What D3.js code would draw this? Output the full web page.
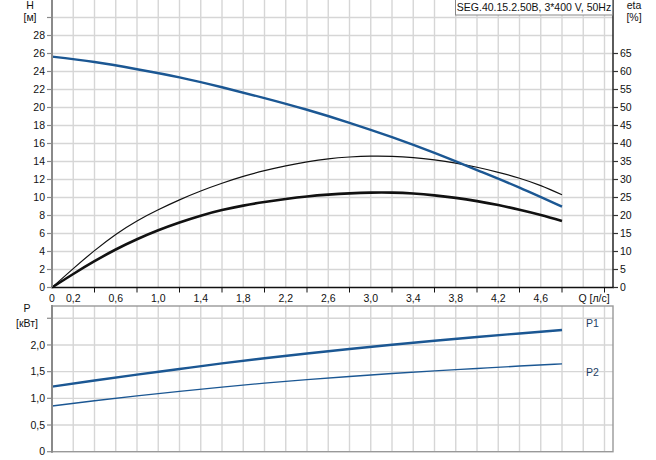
<!DOCTYPE html>
<html><head><meta charset="utf-8">
<script src="https://cdn.jsdelivr.net/npm/d3@7"></script>
<style>
html,body{margin:0;padding:0;background:#fff;}
svg{display:block;font-family:"Liberation Sans",Arial,sans-serif;}
</style></head>
<body>
<svg id="c" width="656" height="460"></svg>
<script>
// ---- data ----
const qH = [0,0.4,0.8,1.2,1.6,2.0,2.4,2.8,3.2,3.6,4.0,4.4,4.8];
const headH = [25.65,25.05,24.25,23.35,22.25,21.05,19.75,18.3,16.7,14.95,13.05,11.1,8.98];

const qEta = [0,0.2,0.4,0.6,0.8,1.0,1.2,1.4,1.6,1.8,2.0,2.2,2.4,2.6,2.8,3.0,3.2,3.4,3.6,3.8,4.0,4.2,4.4,4.6,4.8];
const etaPump = [0,5.25,10.25,14.75,18.5,21.6,24.35,26.8,28.95,30.85,32.45,33.8,34.9,35.75,36.25,36.5,36.45,36.1,35.45,34.55,33.4,32.0,30.35,28.3,25.75];
const etaTotal = [0,3.75,7.3,10.55,13.4,15.9,18.05,19.95,21.5,22.75,23.75,24.6,25.3,25.8,26.15,26.35,26.35,26.1,25.6,24.9,24.0,22.9,21.6,20.15,18.5];

const qP = [0,0.4,0.8,1.2,1.6,2.0,2.4,2.8,3.2,3.6,4.0,4.4,4.8];
const p1 = [1.22,1.335,1.445,1.55,1.655,1.75,1.84,1.925,2.005,2.08,2.15,2.215,2.28];
const p2 = [0.857,0.955,1.045,1.13,1.21,1.285,1.35,1.41,1.465,1.515,1.56,1.605,1.645];

const qTickLabels = ["0","0,2","0,6","1,0","1,4","1,8","2,2","2,6","3,0","3,4","3,8","4,2","4,6"];
const qTickValues = [0,0.2,0.6,1.0,1.4,1.8,2.2,2.6,3.0,3.4,3.8,4.2,4.6];
const hTicks = [0,2,4,6,8,10,12,14,16,18,20,22,24,26,28];
const etaTicks = [0,5,10,15,20,25,30,35,40,45,50,55,60,65];
const pTicks = [0,0.5,1.0,1.5,2.0];
const pTickLabels = ["0","0,5","1,0","1,5","2,0"];
const title = "SEG.40.15.2.50B, 3*400 V, 50Hz";

// ---- layout ----
const svg = d3.select("#c");
const X0 = 52, X1 = 613;
const x = d3.scaleLinear().domain([0,5.28]).range([X0,X1]);
const yH = d3.scaleLinear().domain([0,32]).range([287.5,-0.5]);
const yEta = d3.scaleLinear().domain([0,80]).range([287.5,-0.5]);
const yP = d3.scaleLinear().domain([0,2.73]).range([451.7,306]);

const gridQ = d3.range(1,27).map(i=>i*0.2);
const blue = "#1b5793";
const gridCol = "#d6d6d6";

// ---- top chart grid ----
const gTop = svg.append("g");
gTop.selectAll("line.vg").data(gridQ).join("line")
  .attr("x1",d=>x(d)).attr("x2",d=>x(d)).attr("y1",0).attr("y2",yH(0))
  .attr("stroke",gridCol).attr("stroke-width",1.4);
gTop.selectAll("line.hg").data(d3.range(1,16).map(i=>i*2)).join("line")
  .attr("x1",X0).attr("x2",X1).attr("y1",d=>yH(d)).attr("y2",d=>yH(d))
  .attr("stroke",gridCol).attr("stroke-width",1.4);

// curves
const lineOf = (xs, ys, ysc) => d3.line().curve(d3.curveNatural)
  .x((d,i)=>x(xs[i])).y(d=>ysc(d))(ys);

gTop.append("path").attr("d",lineOf(qEta,etaPump,yEta)).attr("fill","none")
  .attr("stroke","#111").attr("stroke-width",1.2);
gTop.append("path").attr("d",lineOf(qEta,etaTotal,yEta)).attr("fill","none")
  .attr("stroke","#111").attr("stroke-width",2.6);
gTop.append("path").attr("d",lineOf(qH,headH,yH)).attr("fill","none")
  .attr("stroke",blue).attr("stroke-width",2.4);

// axes
gTop.append("line").attr("x1",X0).attr("x2",X0).attr("y1",0).attr("y2",yH(0))
  .attr("stroke","#8a8a8a").attr("stroke-width",2);
gTop.append("line").attr("x1",X1).attr("x2",X1).attr("y1",0).attr("y2",yH(0))
  .attr("stroke","#333").attr("stroke-width",1.6);
gTop.append("line").attr("x1",X0-1).attr("x2",X1+1).attr("y1",yH(0)).attr("y2",yH(0))
  .attr("stroke","#111").attr("stroke-width",1.6);

// left ticks
gTop.selectAll("line.lt").data(hTicks.concat([30])).join("line")
  .attr("x1",X0-5).attr("x2",X0).attr("y1",d=>yH(d)).attr("y2",d=>yH(d))
  .attr("stroke","#8a8a8a").attr("stroke-width",1.2);
gTop.selectAll("text.lt").data(hTicks).join("text")
  .attr("x",45).attr("y",d=>yH(d)).attr("dy","0.35em").attr("text-anchor","end")
  .attr("font-size",10.5).attr("fill","#111").text(d=>d);
// right ticks
gTop.selectAll("line.rt").data(etaTicks).join("line")
  .attr("x1",X1).attr("x2",X1+5).attr("y1",d=>yEta(d)).attr("y2",d=>yEta(d))
  .attr("stroke","#333").attr("stroke-width",1.2);
gTop.selectAll("text.rt").data(etaTicks).join("text")
  .attr("x",620).attr("y",d=>yEta(d)).attr("dy","0.35em").attr("text-anchor","start")
  .attr("font-size",10.5).attr("fill","#111").text(d=>d);
// bottom ticks
gTop.selectAll("line.bt").data(d3.range(1,14).map(i=>i*0.4)).join("line")
  .attr("x1",d=>x(d)).attr("x2",d=>x(d)).attr("y1",yH(0)).attr("y2",yH(0)+5)
  .attr("stroke","#111").attr("stroke-width",1);
gTop.selectAll("text.bt").data(qTickValues).join("text")
  .attr("x",d=>x(d)).attr("y",298).attr("dy","0.35em").attr("text-anchor","middle")
  .attr("font-size",10.5).attr("fill","#111").text((d,i)=>qTickLabels[i]);
gTop.append("text").attr("x",594).attr("y",298).attr("dy","0.35em").attr("text-anchor","middle")
  .attr("font-size",10.5).attr("fill","#111").text("Q [л/с]");

// axis titles
gTop.append("text").attr("x",30).attr("y",5).attr("dy","0.35em").attr("text-anchor","middle")
  .attr("font-size",10.5).attr("fill","#111").text("H");
gTop.append("text").attr("x",30).attr("y",17.5).attr("dy","0.35em").attr("text-anchor","middle")
  .attr("font-size",10.5).attr("fill","#111").text("[м]");
gTop.append("text").attr("x",634).attr("y",5).attr("dy","0.35em").attr("text-anchor","middle")
  .attr("font-size",10.5).attr("fill","#111").text("eta");
gTop.append("text").attr("x",634).attr("y",17.5).attr("dy","0.35em").attr("text-anchor","middle")
  .attr("font-size",10.5).attr("fill","#111").text("[%]");

// title box
gTop.append("rect").attr("x",455.5).attr("y",-1).attr("width",157).attr("height",16)
  .attr("fill","#fff").attr("stroke","#888").attr("stroke-width",1);
gTop.append("text").attr("x",534).attr("y",7).attr("dy","0.35em").attr("text-anchor","middle")
  .attr("font-size",10.5).attr("fill","#111").text(title);

// ---- bottom chart ----
const gBot = svg.append("g");
gBot.selectAll("line.vg").data(gridQ).join("line")
  .attr("x1",d=>x(d)).attr("x2",d=>x(d)).attr("y1",yP(2.73)).attr("y2",yP(0))
  .attr("stroke",gridCol).attr("stroke-width",1.4);
gBot.selectAll("line.hg").data([0.5,1.0,1.5,2.0,2.5]).join("line")
  .attr("x1",X0).attr("x2",X1).attr("y1",d=>yP(d)).attr("y2",d=>yP(d))
  .attr("stroke",gridCol).attr("stroke-width",1.4);

gBot.append("path").attr("d",lineOf(qP,p2,yP)).attr("fill","none")
  .attr("stroke",blue).attr("stroke-width",1.4);
gBot.append("path").attr("d",lineOf(qP,p1,yP)).attr("fill","none")
  .attr("stroke",blue).attr("stroke-width",2.4);

// frame
gBot.append("rect").attr("x",X0).attr("y",yP(2.73)).attr("width",X1-X0).attr("height",yP(0)-yP(2.73))
  .attr("fill","none").attr("stroke","#999").attr("stroke-width",1.4);
gBot.append("line").attr("x1",X0).attr("x2",X0).attr("y1",yP(2.73)-1).attr("y2",yP(0)+1)
  .attr("stroke","#8a8a8a").attr("stroke-width",2);

gBot.selectAll("line.lt").data(pTicks.concat([2.5])).join("line")
  .attr("x1",X0-5).attr("x2",X0).attr("y1",d=>yP(d)).attr("y2",d=>yP(d))
  .attr("stroke","#8a8a8a").attr("stroke-width",1.2);
gBot.selectAll("text.lt").data(pTicks).join("text")
  .attr("x",45).attr("y",d=>yP(d)).attr("dy","0.35em").attr("text-anchor","end")
  .attr("font-size",10.5).attr("fill","#111").text((d,i)=>pTickLabels[i]);

gBot.append("text").attr("x",27).attr("y",308).attr("dy","0.35em").attr("text-anchor","middle")
  .attr("font-size",10.5).attr("fill","#111").text("P");
gBot.append("text").attr("x",27).attr("y",323).attr("dy","0.35em").attr("text-anchor","middle")
  .attr("font-size",10.5).attr("fill","#111").text("[кВт]");

gBot.append("text").attr("x",586).attr("y",323.5).attr("dy","0.35em")
  .attr("font-size",10.5).attr("fill","#1f3f66").text("P1");
gBot.append("text").attr("x",586).attr("y",372).attr("dy","0.35em")
  .attr("font-size",10.5).attr("fill","#1f3f66").text("P2");
</script>
</body></html>
